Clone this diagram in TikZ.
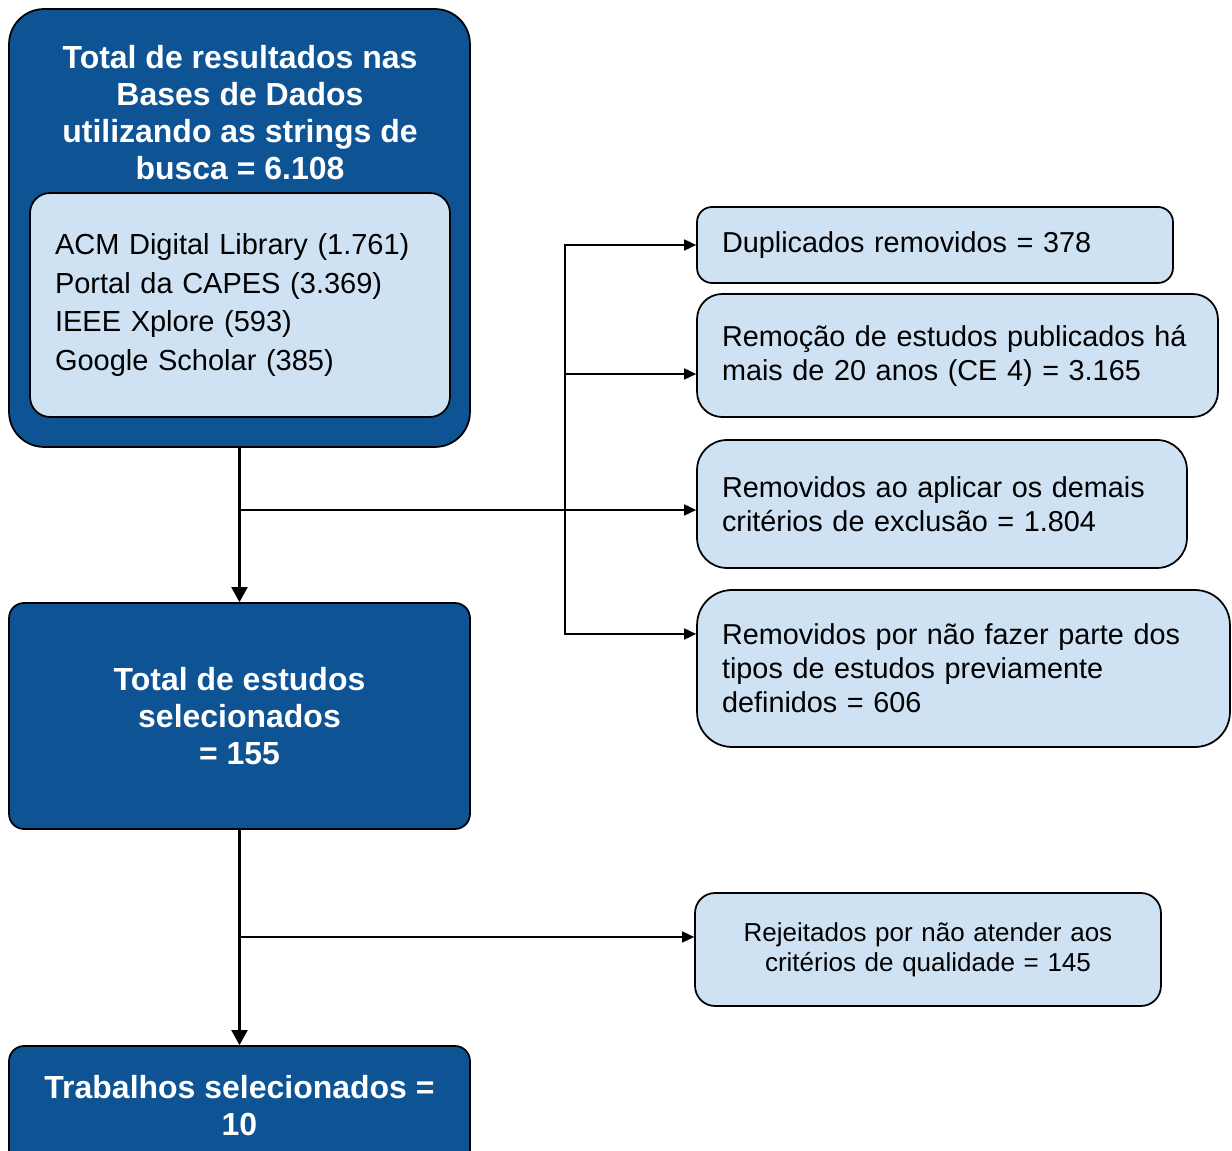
\documentclass[tikz,border=0pt]{standalone}
\usepackage{fontspec}
\setmainfont{Liberation Sans}
\usetikzlibrary{arrows.meta}
\definecolor{dkblue}{RGB}{14,83,148}
\definecolor{ltblue}{RGB}{207,226,243}
\begin{document}
\begin{tikzpicture}[x=0.02cm,y=-0.02cm,
 titlefont/.style={font=\fontsize{18.2}{21}\selectfont\bfseries},
 darkbox/.style={draw=black, line width=1pt, fill=dkblue, text=white, titlefont, align=center, minimum width=9.22cm, inner sep=0pt},
 lightbox/.style={draw=black, line width=1pt, fill=ltblue, font=\fontsize{16.4}{19.3}\selectfont, align=left, inner xsep=0.5cm, inner ysep=0pt},
 mainarrow/.style={line width=1.2pt, -{Triangle[width=0.32cm,length=0.3cm]}},
 sidearrow/.style={line width=0.9pt, -{Triangle[width=0.22cm,length=0.24cm]}}
]
\useasboundingbox (0,0) rectangle (1232,1151);
\clip (0,0) rectangle (1232,1151);

% left column
\node[darkbox, rounded corners=0.7cm, minimum height=8.76cm] (top) at (239.5,228) {};
\node[text=white, titlefont, align=center, inner sep=0pt] (toptitle) at (240,112.5)
  {Total de resultados nas\\Bases de Dados\\utilizando as strings de\\busca = 6.108};
\node[lightbox, rounded corners=0.4cm, minimum width=8.4cm, minimum height=4.48cm, text width=7.4cm, font=\fontsize{16.5}{21.9}\selectfont] (dbs) at (240,305)
  {ACM Digital Library (1.761)\\Portal da CAPES (3.369)\\IEEE Xplore (593)\\Google Scholar (385)};
\node[darkbox, rounded corners=0.3cm, minimum height=4.52cm] (sel) at (239.5,716) {Total de estudos\\selecionados\\= 155};
\node[darkbox, rounded corners=0.3cm, minimum height=2.4cm] (final) at (239.5,1106) {Trabalhos selecionados =\\10};

% right column
\node[lightbox, rounded corners=0.3cm, minimum height=1.52cm, text width=8.52cm] (dup) at (935,245) {Duplicados removidos = 378};
\node[lightbox, rounded corners=0.5cm, minimum height=2.46cm, text width=9.42cm] (r1) at (957.5,355.5)
  {Remoção de estudos publicados há\\mais de 20 anos (CE 4) = 3.165};
\node[lightbox, rounded corners=0.6cm, minimum height=2.56cm, text width=8.8cm] (r2) at (942,504)
  {Removidos ao aplicar os demais\\critérios de exclusão = 1.804};
\node[lightbox, rounded corners=0.7cm, minimum height=3.14cm, text width=9.66cm] (r3) at (963.5,668.5)
  {Removidos por não fazer parte dos\\tipos de estudos previamente\\definidos = 606};
\node[lightbox, rounded corners=0.4cm, minimum height=2.26cm, text width=8.32cm, align=center, font=\fontsize{14.8}{17}\selectfont] (rej) at (928,949.5)
  {Rejeitados por não atender aos\\critérios de qualidade = 145};

% connectors
\coordinate (j1) at (240,510);
\coordinate (j2) at (240,937);
\coordinate (bt) at (565,245);
\coordinate (bm) at (565,374);
\coordinate (bb) at (565,634);

\draw[mainarrow] (top.south) -- (sel.north);
\draw[sidearrow] (j1) -- (j1 -| r2.west);
\draw[line width=0.9pt, {Triangle[width=0.22cm,length=0.24cm]}-{Triangle[width=0.22cm,length=0.24cm]}]
  (bt -| dup.west) -- (bt) -- (bb) -- (bb -| r3.west);
\draw[sidearrow] (bm) -- (bm -| r1.west);
\draw[mainarrow] (sel.south) -- (final.north);
\draw[sidearrow] (j2) -- (j2 -| rej.west);
\end{tikzpicture}
\end{document}
